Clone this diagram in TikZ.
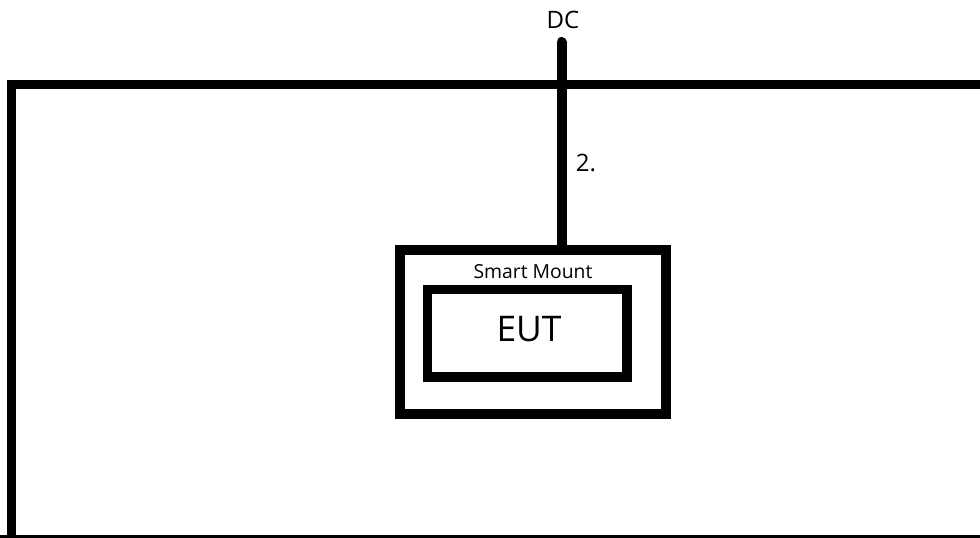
\documentclass[tikz,border=0pt]{standalone}
\usepackage{fontspec}
\setmainfont{Open Sans}
\tikzset{
  frameline/.style={draw=black, line width=6.75pt},
  boxline/.style={draw=black, line width=7.5pt, fill=none, inner sep=0pt, outer sep=0pt},
  eutline/.style={draw=black, line width=6.9pt, inner sep=0pt, outer sep=0pt},
  cable/.style={draw=black, line width=7.5pt, line cap=round},
  lbl/.style={inner sep=0pt, outer sep=0pt, text=black}
}
\begin{document}
\begin{tikzpicture}[x=0.75pt, y=-0.75pt]
\useasboundingbox (0,0) rectangle (980,538);
\clip (0,0) rectangle (980,538);
% outer frame (extends past right and bottom edges)
\draw[frameline] (11.5,560) -- (11.5,85) -- (1000,85);
\draw[frameline] (0,539.5) -- (1000,539.5);
% smart mount box
\node[boxline, minimum width=199.5pt, minimum height=123pt] (mount) at (533,332) {};
\node[lbl, font=\fontsize{14.5}{17}\selectfont] (mountlabel) at (533,271.5) {Smart Mount};
% EUT box
\node[eutline, minimum width=149.6pt, minimum height=65.6pt] (eut) at (527.25,333.25) {};
\node[lbl, font=\fontsize{26.5}{30}\selectfont] (eutlabel) at (529,329) {EUT};
% DC cable
\coordinate (dctop) at (561.5,42);
\draw[cable] (dctop) -- (dctop |- mount.north);
\node[lbl, font=\fontsize{18}{21}\selectfont] (dc) at (563,20.3) {DC};
\node[lbl, font=\fontsize{18}{21}\selectfont] (num) at (586,163) {2.};
\end{tikzpicture}
\end{document}
